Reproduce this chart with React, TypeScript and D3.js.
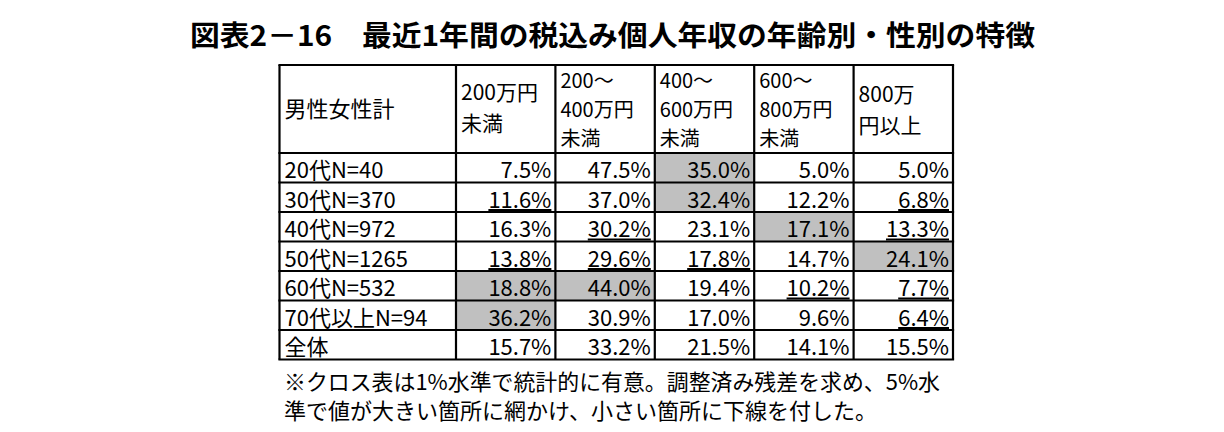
import React, { useEffect, useRef } from 'react';
import * as d3 from 'd3';

const title = '図表2－16　最近1年間の税込み個人年収の年齢別・性別の特徴';
const cornerLabel = '男性女性計';
const columnHeaders = [
  ['200万円', '未満'],
  ['200～', '400万円', '未満'],
  ['400～', '600万円', '未満'],
  ['600～', '800万円', '未満'],
  ['800万', '円以上'],
];
const rowLabels = ['20代N=40', '30代N=370', '40代N=972', '50代N=1265', '60代N=532', '70代以上N=94', '全体'];

// 列ごとの構成比（%）
const under200 = [7.5, 11.6, 16.3, 13.8, 18.8, 36.2, 15.7];
const from200to400 = [47.5, 37.0, 30.2, 29.6, 44.0, 30.9, 33.2];
const from400to600 = [35.0, 32.4, 23.1, 17.8, 19.4, 17.0, 21.5];
const from600to800 = [5.0, 12.2, 17.1, 14.7, 10.2, 9.6, 14.1];
const over800 = [5.0, 6.8, 13.3, 24.1, 7.7, 6.4, 15.5];
const series = [under200, from200to400, from400to600, from600to800, over800];

// H = 網かけ（有意に大きい）, L = 下線（有意に小さい）
const marks = [
  ['', '', 'H', '', ''],
  ['L', '', 'H', '', 'L'],
  ['', 'L', '', 'H', 'L'],
  ['L', 'L', 'L', '', 'H'],
  ['H', 'H', '', 'L', 'L'],
  ['H', '', '', '', 'L'],
  ['', '', '', '', ''],
];

const notes = [
  '※クロス表は1%水準で統計的に有意。調整済み残差を求め、5%水',
  '準で値が大きい箇所に網かけ、小さい箇所に下線を付した。',
];

const W = 1224;
const H = 432;
const font = "'Noto Sans CJK JP', 'Noto Sans', sans-serif";

export default function App() {
  const ref = useRef<SVGSVGElement>(null);

  useEffect(() => {
    const svg = d3.select(ref.current);
    svg.selectAll('*').remove();

    const left = 279.5;
    const labelRight = 456;
    const right = 953;
    const top = 65;
    const headTop = 153;
    const bottom = 359.5;

    const x = d3.scaleBand<number>().domain(d3.range(series.length)).range([labelRight, right]);
    const y = d3.scaleBand<number>().domain(d3.range(rowLabels.length)).range([headTop, bottom]);

    svg.append('rect').attr('width', W).attr('height', H).attr('fill', '#fff');

    svg.append('text')
      .attr('x', 190).attr('y', 46)
      .attr('font-family', font).attr('font-weight', 'bold').attr('font-size', 28)
      .attr('textLength', 845).attr('lengthAdjust', 'spacingAndGlyphs')
      .text(title);

    // cells
    const g = svg.append('g');
    rowLabels.forEach((label, r) => {
      const yy = y(r)!;
      g.append('text')
        .attr('x', left + 5).attr('y', yy + 25)
        .attr('font-family', font).attr('font-size', 22)
        .text(label);
      series.forEach((vals, c) => {
        const xx = x(c)!;
        const m = marks[r][c];
        if (m === 'H') {
          g.append('rect')
            .attr('x', xx).attr('y', yy)
            .attr('width', x.bandwidth()).attr('height', y.bandwidth())
            .attr('fill', '#c0c0c0');
        }
        const t = g.append('text')
          .attr('x', xx + x.bandwidth() - 4).attr('y', yy + 25)
          .attr('text-anchor', 'end')
          .attr('font-family', font).attr('font-size', 22)
          .text(d3.format('.1f')(vals[r]) + '%');
        if (m === 'L') {
          const len = (t.node() as SVGTextElement).getComputedTextLength();
          g.append('line')
            .attr('x1', xx + x.bandwidth() - 4 - len).attr('x2', xx + x.bandwidth() - 4)
            .attr('y1', yy + 27.5).attr('y2', yy + 27.5)
            .attr('stroke', '#000').attr('stroke-width', 2.2);
        }
      });
    });

    // header
    g.append('text')
      .attr('x', left + 5).attr('y', 117)
      .attr('font-family', font).attr('font-size', 22)
      .text(cornerLabel);
    columnHeaders.forEach((lines, c) => {
      const three = lines.length === 3;
      const size = three ? 20 : 21;
      const step = three ? 29 : 31;
      const startY = three ? 88 : (c === 4 ? 102 : 100);
      lines.forEach((ln, i) => {
        g.append('text')
          .attr('x', x(c)! + 5).attr('y', startY + i * step)
          .attr('font-family', font).attr('font-size', size)
          .text(ln);
      });
    });

    // grid
    const grid = svg.append('g').attr('stroke', '#000').attr('stroke-width', 2.2);
    [left, labelRight, ...d3.range(1, series.length).map((c) => x(c)!), right].forEach((xv) => {
      grid.append('line').attr('x1', xv).attr('x2', xv).attr('y1', top).attr('y2', bottom);
    });
    [top, ...d3.range(rowLabels.length).map((r) => y(r)!), bottom].forEach((yv) => {
      grid.append('line').attr('x1', left - 1.1).attr('x2', right + 1.1).attr('y1', yv).attr('y2', yv);
    });

    notes.forEach((n, i) => {
      const t = svg.append('text')
        .attr('x', 284).attr('y', 390 + i * 29)
        .attr('font-family', font).attr('font-size', 22)
        .text(n);
      if (i === 0) t.attr('textLength', 656).attr('lengthAdjust', 'spacingAndGlyphs');
    });
  }, []);

  return (
    <svg ref={ref} width={W} height={H} style={{ position: 'absolute', left: 0, top: 0, display: 'block' }} />
  );
}
